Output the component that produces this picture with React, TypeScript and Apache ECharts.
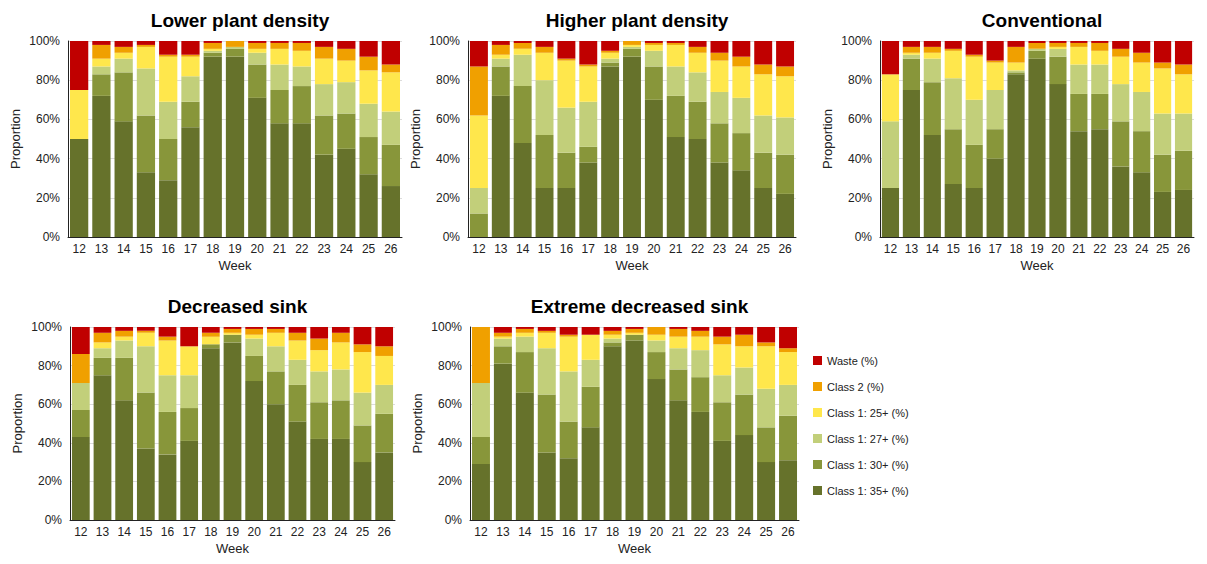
import { useEffect, useRef } from 'react'
import * as echarts from 'echarts'

const weeks = ['12', '13', '14', '15', '16', '17', '18', '19', '20', '21', '22', '23', '24', '25', '26']

const classes = ['Class 1: 35+ (%)', 'Class 1: 30+ (%)', 'Class 1: 27+ (%)', 'Class 1: 25+ (%)', 'Class 2 (%)', 'Waste (%)']
const colors = ['#66722B', '#88963A', '#C2CF7A', '#FFE74C', '#F0A000', '#C00000']

// cumulative tops per week: [35+, 30+, 27+, 25+, class 2, waste]
const lowerDensity = [
  [50, 50, 50, 75, 75, 100], [72, 83, 87, 91, 98, 100], [59, 84, 91, 94, 97, 100],
  [33, 62, 86, 97, 98, 100], [29, 50, 69, 92, 93, 100], [56, 69, 82, 92, 93, 100],
  [92, 94, 95, 96, 99, 100], [92, 96, 97, 97, 100, 100], [71, 88, 94, 96, 99, 100],
  [58, 75, 88, 96, 99, 100], [58, 77, 87, 95, 99, 100], [42, 62, 78, 91, 97, 100],
  [45, 63, 79, 90, 96, 100], [32, 51, 68, 85, 92, 100], [26, 47, 64, 84, 88, 100],
]
const higherDensity = [
  [0, 12, 25, 62, 87, 100], [72, 87, 91, 93, 98, 100], [48, 77, 93, 96, 99, 100],
  [25, 52, 80, 94, 97, 100], [25, 43, 66, 90, 91, 100], [38, 46, 69, 87, 88, 100],
  [87, 89, 91, 94, 95, 100], [92, 96, 97, 98, 100, 100], [70, 87, 95, 98, 99, 100],
  [51, 72, 87, 98, 99, 100], [50, 69, 84, 94, 97, 100], [38, 58, 74, 90, 94, 100],
  [34, 53, 71, 87, 92, 100], [25, 43, 62, 83, 88, 100], [22, 42, 61, 82, 87, 100],
]
const conventional = [
  [25, 25, 59, 83, 83, 100], [75, 91, 93, 94, 97, 100], [52, 79, 91, 94, 97, 100],
  [27, 55, 81, 95, 96, 100], [25, 47, 70, 92, 93, 100], [40, 55, 75, 89, 90, 100],
  [83, 84, 85, 89, 97, 100], [91, 95, 96, 96, 99, 100], [78, 92, 96, 97, 99, 100],
  [54, 73, 88, 97, 99, 100], [55, 73, 88, 95, 99, 100], [36, 59, 78, 92, 96, 100],
  [33, 54, 74, 89, 94, 100], [23, 42, 63, 86, 89, 100], [24, 44, 63, 83, 88, 100],
]
const decreasedSink = [
  [43, 57, 71, 71, 86, 100], [75, 84, 89, 92, 97, 100], [62, 84, 93, 95, 98, 100],
  [37, 66, 90, 97, 98, 100], [34, 56, 75, 93, 95, 100], [41, 58, 75, 90, 90, 100],
  [89, 91, 91, 95, 97, 100], [92, 96, 96, 97, 99, 100], [72, 85, 94, 96, 99, 100],
  [60, 77, 90, 97, 99, 100], [51, 70, 83, 93, 97, 100], [42, 61, 77, 88, 94, 100],
  [42, 62, 78, 92, 97, 100], [30, 49, 66, 87, 91, 100], [35, 55, 70, 85, 90, 100],
]
const extremeSink = [
  [29, 43, 71, 71, 100, 100], [81, 90, 94, 95, 97, 100], [66, 87, 95, 97, 99, 100],
  [35, 65, 89, 97, 98, 100], [32, 51, 77, 95, 96, 100], [48, 69, 83, 96, 96, 100],
  [90, 92, 94, 96, 98, 100], [93, 96, 96, 97, 99, 100], [73, 87, 93, 96, 100, 100],
  [62, 78, 89, 95, 99, 100], [56, 74, 88, 95, 98, 100], [41, 61, 75, 91, 95, 100],
  [44, 65, 79, 90, 96, 100], [30, 48, 68, 90, 92, 100], [31, 54, 70, 87, 89, 100],
]

const panels = [
  { title: 'Lower plant density', data: lowerDensity, left: 60, right: 394, top: 33, bottom: 229 },
  { title: 'Higher plant density', data: higherDensity, left: 460, right: 788, top: 33, bottom: 229 },
  { title: 'Conventional', data: conventional, left: 872, right: 1186, top: 33, bottom: 229 },
  { title: 'Decreased sink', data: decreasedSink, left: 62, right: 387, top: 319, bottom: 516 },
  { title: 'Extreme decreased sink', data: extremeSink, left: 462, right: 791, top: 319, bottom: 516 },
]

const font = "'Liberation Sans', Arial, sans-serif"

export default function App() {
  const ref = useRef<HTMLDivElement>(null)

  useEffect(() => {
    if (!ref.current) return
    const chart = echarts.init(ref.current, null, { renderer: 'svg' })
    const grid: any[] = []
    const xAxis: any[] = []
    const yAxis: any[] = []
    const series: any[] = []
    const title: any[] = []

    panels.forEach((p, i) => {
      grid.push({ left: p.left, top: p.top, width: p.right - p.left, height: p.bottom - p.top, containLabel: false })
      title.push({
        text: p.title,
        left: (p.left + p.right) / 2,
        top: p.top - 35,
        textAlign: 'center',
        textStyle: { fontFamily: font, fontWeight: 'bold', fontSize: 19, color: '#000' },
      })
      xAxis.push({
        type: 'category', gridIndex: i, data: weeks,
        name: 'Week', nameLocation: 'middle', nameGap: 22,
        nameTextStyle: { fontFamily: font, fontSize: 13, color: '#222' },
        axisLine: { lineStyle: { color: '#222' } }, axisTick: { show: false },
        axisLabel: { fontFamily: font, fontSize: 12, color: '#222', margin: 6 },
      })
      yAxis.push({
        type: 'value', gridIndex: i, min: 0, max: 100, interval: 20,
        name: 'Proportion', nameLocation: 'middle', nameGap: 46,
        nameTextStyle: { fontFamily: font, fontSize: 13, color: '#222' },
        axisLine: { show: true, lineStyle: { color: '#222' } },
        axisLabel: { fontFamily: font, fontSize: 12, color: '#222', formatter: '{value}%' },
        splitLine: { lineStyle: { color: '#dcdcdc' } },
      })
      classes.forEach((c, k) => {
        series.push({
          name: c, type: 'bar', stack: 'p' + i, xAxisIndex: i, yAxisIndex: i,
          barCategoryGap: '18%',
          itemStyle: { color: colors[k] },
          data: p.data.map((row) => row[k] - (k > 0 ? row[k - 1] : 0)),
        })
      })
    })

    chart.setOption({
      animation: false,
      title,
      grid,
      xAxis,
      yAxis,
      series,
      legend: {
        orient: 'vertical', left: 800, top: 342, itemGap: 15,
        itemWidth: 9, itemHeight: 9, icon: 'rect',
        data: [...classes].reverse(),
        textStyle: { fontFamily: font, fontSize: 11, color: '#222' },
      },
    })
    return () => chart.dispose()
  }, [])

  return <div ref={ref} style={{ width: 1191, height: 548 }} />
}
